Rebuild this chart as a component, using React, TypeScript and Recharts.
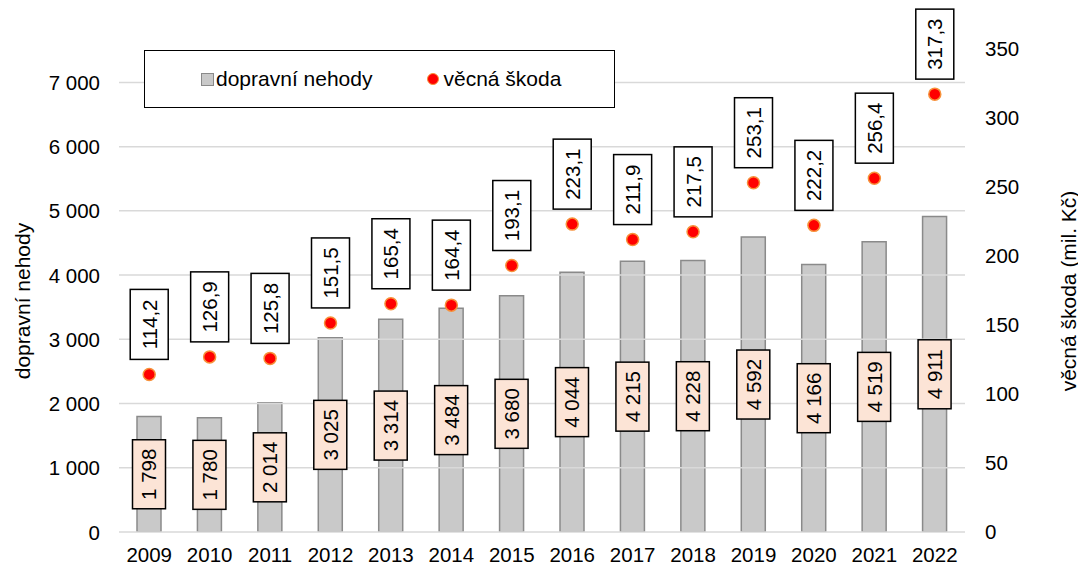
import React from "react";
import {
  ComposedChart,
  Bar,
  Scatter,
  XAxis,
  YAxis,
  LabelList,
} from "recharts";

const years = ["2009", "2010", "2011", "2012", "2013", "2014", "2015", "2016", "2017", "2018", "2019", "2020", "2021", "2022"];
const nehody = [1798, 1780, 2014, 3025, 3314, 3484, 3680, 4044, 4215, 4228, 4592, 4166, 4519, 4911];
const skoda = [114.2, 126.9, 125.8, 151.5, 165.4, 164.4, 193.1, 223.1, 211.9, 217.5, 253.1, 222.2, 256.4, 317.3];
const leftTicks = [0, 1000, 2000, 3000, 4000, 5000, 6000, 7000];
const rightTicks = [0, 50, 100, 150, 200, 250, 300, 350];

const FONT = "'Liberation Sans', Arial, sans-serif";
const FS = 20.5;
const W = 1078;
const H = 566;
const MARGIN = { top: 49, right: 33, bottom: 4, left: 39 };
const AXIS_W = 80;
const PLOT_L = MARGIN.left + AXIS_W;
const PLOT_R = W - MARGIN.right - AXIS_W;

const data = years.map((year, i) => ({ year, nehody: nehody[i], skoda: skoda[i] }));

const fmtThousands = (v: number) =>
  String(v).replace(/\B(?=(\d{3})+(?!\d))/g, " ");
const fmtDecimal = (v: number) => v.toFixed(1).replace(".", ",");

// left tick: label plus the light horizontal grid line at that tick
const LeftTick = (props: any) => {
  const { x, y, payload } = props;
  return (
    <g>
      <line x1={PLOT_L} x2={PLOT_R} y1={y} y2={y} stroke="#d9d9d9" strokeWidth={1.5} />
      <text x={x} y={y} textAnchor="end" dominantBaseline="central" fontFamily={FONT} fontSize={FS} fill="#000">
        {fmtThousands(payload.value)}
      </text>
    </g>
  );
};

// peach box in the middle of each bar
const BarValueLabel = (props: any) => {
  const { x, y, width, height, value } = props;
  const cx = x + width / 2;
  const cy = y + height / 2;
  const w = 33;
  const h = 69;
  return (
    <g>
      <rect x={cx - w / 2} y={cy - h / 2} width={w} height={h} fill="#fce4d6" stroke="#000" strokeWidth={1.5} />
      <text
        x={cx}
        y={cy}
        transform={`rotate(-90 ${cx} ${cy})`}
        textAnchor="middle"
        dominantBaseline="central"
        fontFamily={FONT}
        fontSize={FS}
        fill="#000"
      >
        {fmtThousands(value)}
      </text>
    </g>
  );
};

// white box above each point
const PointValueLabel = (props: any) => {
  const { x, y, width, height, value } = props;
  const cx = x + (width || 0) / 2;
  const cy = y + (height || 0) / 2;
  const w = 38;
  const h = 70;
  const bottom = cy - 15;
  const my = bottom - h / 2;
  return (
    <g>
      <rect x={cx - w / 2} y={bottom - h} width={w} height={h} fill="#fff" stroke="#000" strokeWidth={1.5} />
      <text
        x={cx}
        y={my}
        transform={`rotate(-90 ${cx} ${my})`}
        textAnchor="middle"
        dominantBaseline="central"
        fontFamily={FONT}
        fontSize={FS}
        fill="#000"
      >
        {fmtDecimal(value)}
      </text>
    </g>
  );
};

const Dot = (props: any) => {
  const { cx, cy } = props;
  return <circle cx={cx} cy={cy} r={6} fill="#ff0000" stroke="#f7913a" strokeWidth={1.5} />;
};

const LegendBox = () => (
  <div
    style={{
      position: "absolute",
      left: 144,
      top: 50,
      boxSizing: "border-box",
      width: 471,
      height: 58,
      border: "1.5px solid #000",
      background: "#fff",
      display: "flex",
      alignItems: "center",
      fontFamily: FONT,
      fontSize: 21,
      color: "#000",
    }}
  >
    <span
      style={{
        display: "inline-block",
        width: 11,
        height: 11,
        background: "#c9c9c9",
        border: "1.5px solid #8a8a8a",
        marginLeft: 56,
      }}
    />
    <span style={{ marginLeft: 2 }}>dopravní nehody</span>
    <span
      style={{
        display: "inline-block",
        width: 10,
        height: 10,
        borderRadius: "50%",
        background: "#ff0000",
        border: "1.5px solid #f7913a",
        marginLeft: 55,
      }}
    />
    <span style={{ marginLeft: 4 }}>věcná škoda</span>
  </div>
);

const AxisTitle = ({ text, x, y }: { text: string; x: number; y: number }) => (
  <div
    style={{
      position: "absolute",
      left: x,
      top: y,
      transform: "translate(-50%, -50%) rotate(-90deg)",
      whiteSpace: "nowrap",
      fontFamily: FONT,
      fontSize: 21,
      lineHeight: 1,
      color: "#000",
    }}
  >
    {text}
  </div>
);

export default function App() {
  return (
    <div style={{ position: "absolute", left: 0, top: 0, width: W, height: H, background: "#fff" }}>
      <ComposedChart width={W} height={H} data={data} margin={MARGIN} barSize={24}>
        <XAxis
          dataKey="year"
          axisLine={false}
          tickLine={false}
          tickSize={6}
          tickMargin={9}
          height={30}
          interval={0}
          tick={{ fontSize: FS, fill: "#000", fontFamily: FONT }}
        />
        <YAxis
          yAxisId="left"
          orientation="left"
          width={AXIS_W}
          domain={[0, 7520]}
          ticks={leftTicks}
          allowDataOverflow
          axisLine={false}
          tickLine={false}
          tickSize={6}
          tickMargin={13}
          tick={LeftTick}
        />
        <YAxis
          yAxisId="right"
          orientation="right"
          width={AXIS_W}
          domain={[0, 350]}
          ticks={rightTicks}
          allowDataOverflow
          axisLine={false}
          tickLine={false}
          tickSize={6}
          tickMargin={14}
          tick={{ fontSize: FS, fill: "#000", fontFamily: FONT }}
        />
        <Bar
          yAxisId="left"
          dataKey="nehody"
          name="dopravní nehody"
          fill="#c9c9c9"
          stroke="#8a8a8a"
          strokeWidth={1.5}
          isAnimationActive={false}
        >
          <LabelList dataKey="nehody" content={BarValueLabel} />
        </Bar>
        <Scatter
          yAxisId="right"
          dataKey="skoda"
          name="věcná škoda"
          shape={Dot}
          isAnimationActive={false}
        >
          <LabelList dataKey="skoda" content={PointValueLabel} />
        </Scatter>
      </ComposedChart>
      <LegendBox />
      <AxisTitle text="dopravní nehody" x={22} y={301} />
      <AxisTitle text="věcná škoda (mil. Kč)" x={1068} y={291} />
    </div>
  );
}
